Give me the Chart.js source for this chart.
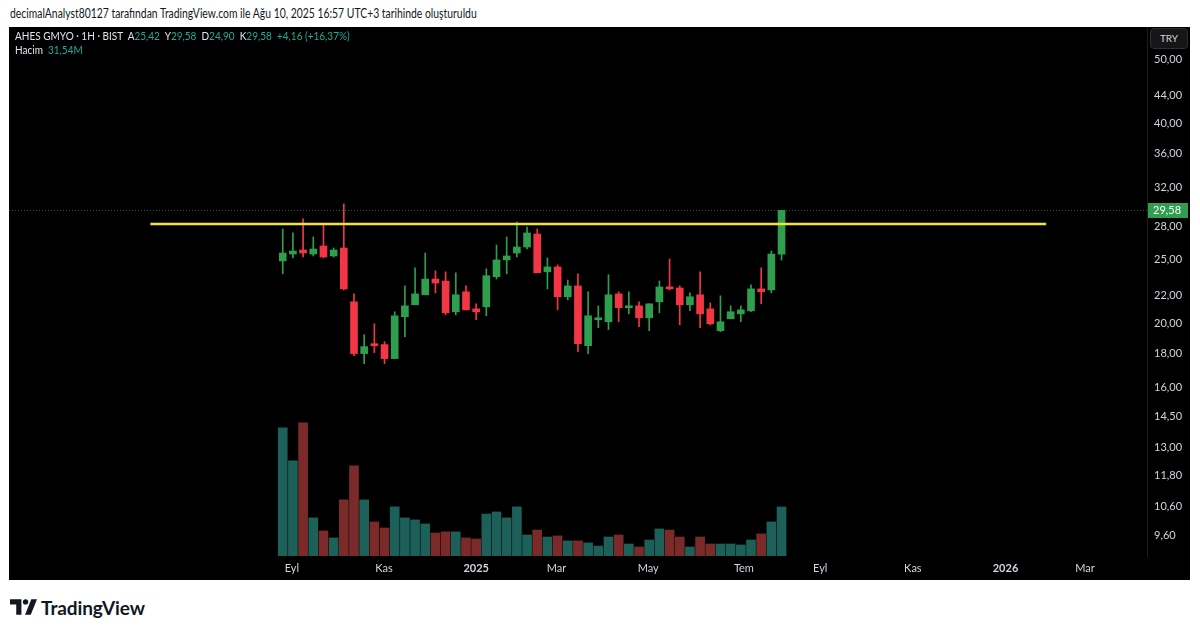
<!DOCTYPE html>
<html><head><meta charset="utf-8">
<script src="https://cdn.jsdelivr.net/npm/chart.js@4.4.1/dist/chart.umd.min.js"></script>
<style>
html,body{margin:0;padding:0;background:#fff;width:1200px;height:633px;overflow:hidden;font-family:Lato,'Open Sans',sans-serif;}
#hdr{position:absolute;left:10px;top:6px;font-size:12.5px;color:#131722;white-space:nowrap;transform:scaleX(0.83);transform-origin:0 0;}
#panel{position:absolute;left:9px;top:27px;width:1181px;height:553px;background:#000;}
#legend{position:absolute;left:15px;top:29px;font-size:11.5px;color:#e0e3eb;line-height:14px;white-space:nowrap;transform:scaleX(0.87);transform-origin:0 0;}
#legend .v{color:#22ab94}
#try{position:absolute;left:1150px;top:28px;width:36px;height:19px;border:1px solid #2a2e39;border-radius:4px;background:#161616;color:#d1d4dc;font-size:10px;line-height:19px;text-align:center;}
#logo{position:absolute;left:10px;top:597px;height:20px;display:flex;align-items:center;color:#131722;}
#logo span{font-size:19px;font-weight:700;margin-left:4px;letter-spacing:-0.1px;}
</style>
</head><body>
<div id="hdr">decimalAnalyst80127 tarafından TradingView.com ile Ağu 10, 2025 16:57 UTC+3 tarihinde oluşturuldu</div>
<div id="panel"><canvas id="c" width="1181" height="553"></canvas></div>
<div id="legend"></div>
<div id="try">TRY</div>
<div id="logo"><svg width="27" height="16" viewBox="0 0 26 15"><path d="M0 0H11V15H6V5H0Z" fill="#131722"/><circle cx="15" cy="2.6" r="2.6" fill="#131722"/><path d="M20.5 0H26L20 15H14.5Z" fill="#131722"/></svg><span>TradingView</span></div>
<script>
const symbolTitle = 'AHES GMYO · 1H · BIST';
const opens  = [24.83,25.43,25.79,25.43,26.15,25.26,25.97,21.55,18.01,18.64,18.58,17.70,20.46,21.33,22.08,23.32,23.16,20.82,22.31,21.03,21.18,23.51,24.92,25.52,26.06,27.26,23.91,24.32,21.93,22.77,18.51,20.25,20.11,22.15,21.11,21.25,20.39,21.55,22.69,22.61,21.33,22.08,21.03,19.50,20.32,20.67,20.89,22.54,22.46,25.42];
const highs  = [27.74,27.36,28.72,26.98,28.13,25.97,30.25,22.15,19.23,19.97,18.77,20.82,22.77,24.24,25.52,23.99,23.91,23.83,22.77,21.40,24.16,26.24,26.98,28.42,27.93,27.74,25.09,24.49,23.24,23.75,22.31,21.25,23.67,22.31,22.31,21.55,21.40,23.16,25.00,22.77,22.23,23.91,21.47,22.00,21.25,21.25,22.85,24.24,25.70,29.58];
const lows   = [23.75,25.09,25.17,25.26,25.09,25.17,22.46,17.88,17.39,18.07,17.39,17.70,19.10,21.33,22.08,22.23,20.60,20.60,20.96,20.25,20.53,23.32,23.75,25.17,25.88,23.83,22.54,20.96,21.70,18.13,18.01,19.70,19.57,20.11,20.67,19.77,19.50,20.75,22.46,19.90,20.89,19.70,19.90,19.43,20.32,20.11,20.82,21.40,22.23,24.90];
const closes = [25.52,25.70,25.52,25.88,25.17,25.79,22.54,18.01,18.45,18.51,17.70,20.53,21.25,22.15,23.32,23.00,20.75,22.08,20.96,20.82,23.59,24.92,25.26,26.06,27.36,23.83,24.32,21.93,22.77,18.64,20.53,20.39,22.08,21.11,21.25,20.39,21.40,22.69,22.54,21.33,21.93,20.67,19.97,20.11,20.82,20.96,22.54,22.31,25.43,29.58];
const volumesM = [82.4,61.2,85.6,24.5,16.1,11.6,36.1,58.0,36.1,21.9,18.0,31.6,24.5,23.2,20.6,14.8,15.5,15.5,11.6,10.9,27.0,28.3,24.5,31.6,13.5,16.7,12.2,12.9,9.7,9.7,8.4,6.4,12.2,13.5,7.7,5.8,10.3,17.4,16.7,12.2,5.8,12.2,7.7,7.7,7.7,7.1,10.3,14.2,21.9,31.54];
const priceTicks = [9.6,10.6,11.8,13,14.5,16,18,20,22,25,28,32,36,40,44,50];
const timeTickPos = [0.9,9.95,19.0,26.9,35.9,45.3,52.8,61.9,71.0,78.8];
const timeTickLabels = ['Eyl','Kas','2025','Mar','May','Tem','Eyl','Kas','2026','Mar'];
const resistanceLevel = 28.22;
const resistanceFrom = -13.0, resistanceTo = 75.0;

const UP='#2f9e4f', DOWN='#f23645', VUP='#1d5f59', VDOWN='#7a2b29';
const fmt = v => v.toFixed(2).replace('.',',');
const n = closes.length, last = n-1;
const isUp = i => closes[i] >= opens[i];
const X_MIN = -26.89, X_MAX = 84.9;

const chg = closes[last]-opens[last];
const pct = chg/opens[last]*100;
document.getElementById('legend').innerHTML =
  symbolTitle + '&nbsp;&nbsp;A<span class="v">'+fmt(opens[last])+'</span>&nbsp;&nbsp;Y<span class="v">'+fmt(highs[last])+
  '</span>&nbsp;&nbsp;D<span class="v">'+fmt(lows[last])+'</span>&nbsp;&nbsp;K<span class="v">'+fmt(closes[last])+
  '</span>&nbsp;&nbsp;<span class="v">'+(chg>=0?'+':'')+fmt(chg)+' ('+(pct>=0?'+':'')+fmt(pct)+'%)</span><br>Hacim&nbsp;&nbsp;<span class="v">'+fmt(volumesM[last])+'M</span>';

const idx = closes.map((_,i)=>i);
const candleColors = idx.map(i=>isUp(i)?UP:DOWN);
const volColors = idx.map(i=>isUp(i)?VUP:VDOWN);

const lastPricePlugin = {
  id:'lastPrice',
  afterDraw(chart){
    const {ctx, chartArea, scales} = chart;
    const y = scales.y.getPixelForValue(closes[last]);
    ctx.save();
    ctx.fillStyle = UP;
    ctx.fillRect(chartArea.right+1, Math.round(y)-7, 40, 15);
    ctx.fillStyle = '#ffffff';
    ctx.font = '11px Lato';
    ctx.textBaseline = 'middle';
    ctx.fillText(fmt(closes[last]), chartArea.right+6, Math.round(y)+0.5);
    ctx.restore();
  }
};

new Chart(document.getElementById('c'), {
  type:'bar',
  data:{
    datasets:[
      {type:'line', data:[{x:resistanceFrom,y:resistanceLevel},{x:resistanceTo,y:resistanceLevel}], borderColor:'#f2e337', borderWidth:2.5, pointRadius:0, yAxisID:'y', order:0},
      {data: idx.map(i=>({x:i,y:[opens[i],closes[i]]})), backgroundColor:candleColors, barThickness:7, minBarLength:2, grouped:false, yAxisID:'y', order:1},
      {data: idx.map(i=>({x:i,y:[lows[i],highs[i]]})), backgroundColor:candleColors, barThickness:1, grouped:false, yAxisID:'y', order:2},
      {data: idx.map(i=>({x:i,y:volumesM[i]})), backgroundColor:volColors, barThickness:9, grouped:false, yAxisID:'yv', order:3},
      {type:'line', data:[{x:X_MIN,y:closes[last]},{x:X_MAX,y:closes[last]}], borderColor:'#4a4e57', borderWidth:1, borderDash:[1,2], pointRadius:0, yAxisID:'y', order:4}
    ]
  },
  options:{
    responsive:false, animation:false,
    layout:{padding:0},
    plugins:{legend:{display:false}, tooltip:{enabled:false}},
    scales:{
      x:{type:'linear', min:X_MIN, max:X_MAX, offset:false,
        grid:{display:false, drawTicks:false}, border:{display:false},
        ticks:{autoSkip:false, maxRotation:0, color:'#d1d4dc', padding:6,
          font: c => ({family:'Lato', size:11, weight: /^\d{4}$/.test(timeTickLabels[c.index]||'') ? 'bold':'normal'}),
          callback:(v,i)=>timeTickLabels[i]},
        afterBuildTicks: s => { s.ticks = timeTickPos.map(v=>({value:v})); },
        afterFit: s => { s.height = 24; s.paddingLeft = 0; s.paddingRight = 0; }
      },
      y:{type:'logarithmic', position:'right', min:8.93, max:55.86,
        grid:{display:false, drawTicks:false}, border:{color:'#1e1e1e'},
        ticks:{color:'#d1d4dc', padding:7, font:{family:'Lato', size:11}, callback: v => fmt(v)},
        afterBuildTicks: s => { s.ticks = priceTicks.map(v=>({value:v})); },
        afterFit: s => { s.width = 43; s.paddingTop = 0; s.paddingBottom = 0; }
      },
      yv:{type:'linear', display:false, min:0, max:340}
    }
  },
  plugins:[lastPricePlugin]
});
</script>
</body></html>
